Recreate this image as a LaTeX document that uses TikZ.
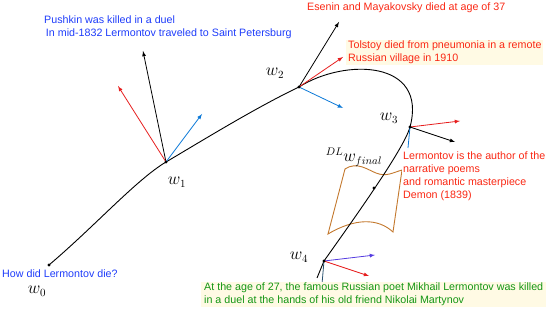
\documentclass[tikz,border=0pt]{standalone}
\usepackage{fontspec}
\setmainfont{Liberation Sans}
\definecolor{txtblue}{RGB}{30,60,250}
\definecolor{txtred}{RGB}{250,40,20}
\definecolor{txtgreen}{RGB}{20,150,20}
\definecolor{arrblue}{RGB}{10,120,215}
\definecolor{arrred}{RGB}{230,30,30}
\definecolor{arrviolet}{RGB}{85,60,225}
\definecolor{arrteal}{RGB}{40,80,110}
\definecolor{sheet}{RGB}{195,120,45}
\definecolor{cream}{RGB}{255,250,228}
\tikzset{
  vec/.style={-latex,line width=0.8},
  lbl/.style={font=\fontsize{10.7}{13}\selectfont,align=left,inner sep=1pt,anchor=north west},
  wlbl/.style={font=\fontsize{16}{18}\selectfont,inner sep=0pt},
}
\begin{document}
\begin{tikzpicture}[x=1pt,y=-1pt]
\useasboundingbox (0,0) rectangle (550,310);
% points on the path
\coordinate (w0) at (49,265);
\coordinate (w1) at (166,162);
\coordinate (w2) at (299,87);
\coordinate (w3) at (410,127);
\coordinate (w4) at (324,261);
\coordinate (wf) at (374,188);
\coordinate (wend) at (317,278);
% the sheet
\draw [sheet,line width=0.9] (345,169) .. controls (357,161) and (368,170) .. (376,173)
  .. controls (386,177) and (392,173) .. (402,170) -- (393,232)
  .. controls (378,218) and (355,218) .. (328,234) -- cycle;
% the path
\draw [line width=0.9] (w0) .. controls (95,226) and (136,180) .. (w1)
  .. controls (200,142) and (255,108) .. (w2)
  .. controls (345,58) and (428,60) .. (w3)
  .. controls (404,149) and (353,220) .. (w4) -- (wend);
% vectors at w1
\coordinate (w1k) at (143,51);
\coordinate (w1r) at (118,86);
\coordinate (w1b) at (202,114);
\draw [vec] (w1) -- (w1k);
\draw [vec,arrred] (w1) -- (w1r);
\draw [vec,arrblue] (w1) -- (w1b);
% vectors at w2
\coordinate (w2k) at (339,22);
\coordinate (w2r) at (343,57);
\coordinate (w2b) at (343,108);
\draw [vec] (w2) -- (w2k);
\draw [vec,arrred] (w2) -- (w2r);
\draw [vec,arrblue] (w2) -- (w2b);
% vectors at w3
\coordinate (w3r) at (460,121);
\coordinate (w3k) at (455,142);
\coordinate (w3b) at (408,148);
\draw [vec,arrred] (w3) -- (w3r);
\draw [vec] (w3) -- (w3k);
\draw [line width=0.8,arrblue] (w3) -- (w3b);
% vectors at w4
\coordinate (w4v) at (375,255);
\coordinate (w4r) at (369,276);
\coordinate (w4t) at (322,284);
\draw [vec,arrviolet] (w4) -- (w4v);
\draw [vec,arrred] (w4) -- (w4r);
\draw [line width=0.8,arrteal] (w4) -- (w4t);
\foreach \p in {w0,w1,w2,w3,w4,wf} \fill (\p) circle (1.6);
% labels
\node [wlbl] (lw0) at (37,291) {$w_0$};
\node [wlbl] (lw1) at (177,182) {$w_1$};
\node [wlbl] (lw2) at (275,73) {$w_2$};
\node [wlbl] (lw3) at (389,118) {$w_3$};
\node [wlbl] (lw4) at (299,257) {$w_4$};
\node [wlbl] (lwf) at (354,157) {$^{DL}w_{final}$};
% texts
\node [lbl,txtblue] (tpush) at (43,15) {Pushkin was killed in a duel\\\,In mid-1832 Lermontov traveled to Saint Petersburg};
\node [lbl,txtblue] (thow) at (1,268.5) {How did Lermontov die?};
\node [lbl,txtred] (tesen) at (306,2) {Esenin and Mayakovsky died at age of 37};
\node [lbl,txtred,fill=cream,inner xsep=2pt] (ttol) at (346,40) {Tolstoy died from pneumonia in a remote\\Russian village in 1910};
\node [lbl,txtred,fill=white] (tlerm) at (402,151) {Lermontov is the author of the\\narrative poems\\and romantic masterpiece\\Demon (1839)};
\node [lbl,txtgreen,fill=cream,inner xsep=3pt] (tage) at (201,282) {At the age of 27, the famous Russian poet Mikhail Lermontov was killed\\in a duel at the hands of his old friend Nikolai Martynov};
\end{tikzpicture}
\end{document}
